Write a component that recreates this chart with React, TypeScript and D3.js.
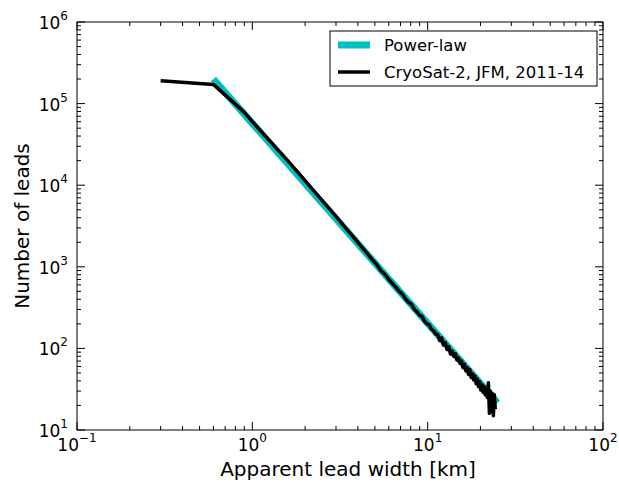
import React, { useRef, useEffect } from "react";
import * as d3 from "d3";

// CryoSat-2 lead width histogram (km, counts)
const leadWidths = [
  0.3, 0.6, 0.9, 1.2, 1.5, 1.8, 2.1, 2.4, 2.7, 3.0, 3.3, 3.6, 3.9, 4.2, 4.5,
  4.8, 5.1, 5.4, 5.7, 6.0, 6.3, 6.6, 6.9, 7.2, 7.5, 7.8, 8.1, 8.4, 8.7, 9.0,
  9.3, 9.6, 9.9, 10.2, 10.5, 10.8, 11.1, 11.4, 11.7, 12.0, 12.3, 12.6, 12.9,
  13.2, 13.5, 13.8, 14.1, 14.4, 14.7, 15.0, 15.3, 15.6, 15.9, 16.2, 16.5,
  16.8, 17.1, 17.4, 17.7, 18.0, 18.3, 18.6, 18.9, 19.2, 19.5, 19.8, 20.1,
  20.4, 20.7, 21.0, 21.3, 21.6, 21.9, 22.2, 22.5, 22.8, 23.1, 23.4, 23.7,
  24.0, 24.3,
];
const leadCounts = [
  190000, 172000, 78000, 39000, 23000, 14800, 10000, 7200, 5400, 4150, 3250,
  2600, 2130, 1760, 1480, 1240, 1080, 900, 810, 700, 625, 560, 495, 460, 400,
  365, 345, 300, 280, 255, 245, 215, 200, 195, 172, 165, 150, 148, 125, 135,
  110, 118, 97, 105, 85, 93, 80, 86, 72, 76, 66, 70, 58, 64, 53, 58, 48, 55,
  44, 49, 41, 46, 37, 42, 34, 39, 31, 36, 29, 34, 27, 31, 25, 38, 16, 30, 17,
  28, 15, 27, 18,
];

// fitted power law end points
const powerLawWidths = [0.6, 25];
const powerLawCounts = [200000, 21.5];

const xTickExps = [-1, 0, 1, 2];
const yTickExps = [1, 2, 3, 4, 5, 6];

const legendLabels = ["Power-law", "CryoSat-2, JFM, 2011-14"];
const seriesColors = ["#00bfbf", "#000000"];

const App: React.FC = () => {
  const svgRef = useRef<SVGSVGElement>(null);

  useEffect(() => {
    if (!svgRef.current) return;
    document.body.style.margin = "0";

    const width = 619;
    const height = 485;
    const left = 77,
      right = 603,
      top = 22,
      bottom = 430;

    const x = d3.scaleLog().domain([0.1, 100]).range([left, right]);
    const y = d3.scaleLog().domain([10, 1e6]).range([bottom, top]);

    const svg = d3
      .select(svgRef.current)
      .attr("width", width)
      .attr("height", height)
      .style("font-family", "'DejaVu Sans', sans-serif");
    svg.selectAll("*").remove();

    svg.append("rect").attr("width", width).attr("height", height).attr("fill", "#fff");

    const line = d3
      .line<[number, number]>()
      .x((d) => x(d[0]))
      .y((d) => y(d[1]));

    const plot = svg.append("g");
    plot
      .append("path")
      .datum(powerLawWidths.map((w, i) => [w, powerLawCounts[i]] as [number, number]))
      .attr("d", line)
      .attr("fill", "none")
      .attr("stroke", seriesColors[0])
      .attr("stroke-width", 7);

    plot
      .append("path")
      .datum(leadWidths.map((w, i) => [w, leadCounts[i]] as [number, number]))
      .attr("d", line)
      .attr("fill", "none")
      .attr("stroke", seriesColors[1])
      .attr("stroke-width", 3.5)
      .attr("stroke-linejoin", "round");

    // ticks (inside, all four sides)
    const ticks = svg.append("g").attr("stroke", "#000").attr("stroke-width", 1);
    const minor = [2, 3, 4, 5, 6, 7, 8, 9];
    xTickExps.forEach((e) => {
      const xv = x(Math.pow(10, e));
      ticks.append("line").attr("x1", xv).attr("x2", xv).attr("y1", bottom).attr("y2", bottom - 8);
      ticks.append("line").attr("x1", xv).attr("x2", xv).attr("y1", top).attr("y2", top + 8);
      if (e < 2)
        minor.forEach((m) => {
          const xm = x(m * Math.pow(10, e));
          ticks.append("line").attr("x1", xm).attr("x2", xm).attr("y1", bottom).attr("y2", bottom - 4);
          ticks.append("line").attr("x1", xm).attr("x2", xm).attr("y1", top).attr("y2", top + 4);
        });
    });
    yTickExps.forEach((e) => {
      const yv = y(Math.pow(10, e));
      ticks.append("line").attr("x1", left).attr("x2", left + 8).attr("y1", yv).attr("y2", yv);
      ticks.append("line").attr("x1", right).attr("x2", right - 8).attr("y1", yv).attr("y2", yv);
      if (e < 6)
        minor.forEach((m) => {
          const ym = y(m * Math.pow(10, e));
          ticks.append("line").attr("x1", left).attr("x2", left + 4).attr("y1", ym).attr("y2", ym);
          ticks.append("line").attr("x1", right).attr("x2", right - 4).attr("y1", ym).attr("y2", ym);
        });
    });

    // frame
    svg
      .append("rect")
      .attr("x", left)
      .attr("y", top)
      .attr("width", right - left)
      .attr("height", bottom - top)
      .attr("fill", "none")
      .attr("stroke", "#000")
      .attr("stroke-width", 1);

    const fmt = (e: number) => (e < 0 ? "\u2212" + Math.abs(e) : String(e));

    xTickExps.forEach((e) => {
      const t = svg
        .append("text")
        .attr("x", x(Math.pow(10, e)))
        .attr("y", bottom + 21)
        .attr("text-anchor", "middle")
        .attr("font-size", 17)
        .attr("fill", "#000");
      t.append("tspan").text("10");
      t.append("tspan").attr("dy", -9).attr("font-size", 12).text(fmt(e));
    });

    yTickExps.forEach((e) => {
      const t = svg
        .append("text")
        .attr("x", left - 9)
        .attr("y", y(Math.pow(10, e)) + 7)
        .attr("text-anchor", "end")
        .attr("font-size", 17)
        .attr("fill", "#000");
      t.append("tspan").text("10");
      t.append("tspan").attr("dy", -9).attr("font-size", 12).text(fmt(e));
    });

    svg
      .append("text")
      .attr("x", (left + right) / 2 + 8)
      .attr("y", 476)
      .attr("text-anchor", "middle")
      .attr("font-size", 20)
      .text("Apparent lead width [km]");

    svg
      .append("text")
      .attr("transform", `translate(29,${(top + bottom) / 2}) rotate(-90)`)
      .attr("text-anchor", "middle")
      .attr("font-size", 20)
      .text("Number of leads");

    // legend
    const lg = svg.append("g");
    lg.append("rect")
      .attr("x", 330)
      .attr("y", 31)
      .attr("width", 267)
      .attr("height", 55)
      .attr("fill", "#fff")
      .attr("stroke", "#000")
      .attr("stroke-width", 1);
    legendLabels.forEach((label, i) => {
      const ly = 45 + i * 27;
      lg.append("line")
        .attr("x1", 338)
        .attr("x2", 370)
        .attr("y1", ly)
        .attr("y2", ly)
        .attr("stroke", seriesColors[i])
        .attr("stroke-width", i === 0 ? 7 : 3.5);
      lg.append("text")
        .attr("x", 384)
        .attr("y", ly + 6)
        .attr("font-size", 16.5)
        .text(label);
    });
  }, []);

  return <svg ref={svgRef} style={{ display: "block" }}></svg>;
};

export default App;
